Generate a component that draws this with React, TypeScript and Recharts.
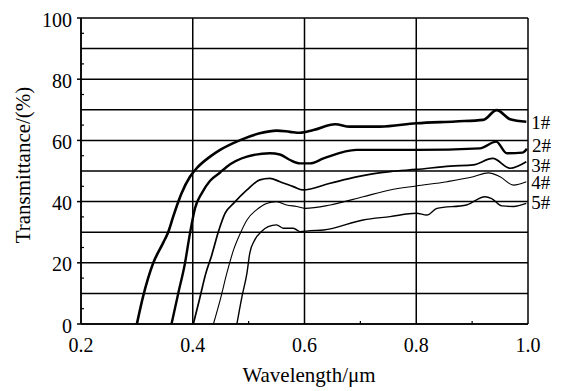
import React from 'react';
import { LineChart, Line, XAxis, YAxis, CartesianGrid, Label } from 'recharts';

// ---- data ----
const wl1 = [0.300, 0.311, 0.329, 0.347, 0.356, 0.365, 0.380, 0.395, 0.407, 0.431, 0.449, 0.485, 0.520, 0.550, 0.574, 0.592, 0.616, 0.655, 0.681, 0.735, 0.800, 0.870, 0.920, 0.944, 0.968, 0.997];
const tr1 = [0, 8.9, 19.8, 26.5, 30.0, 35.1, 42.7, 48.1, 50.9, 54.7, 56.9, 60.1, 62.3, 63.2, 62.8, 62.5, 63.4, 65.3, 64.5, 64.5, 65.6, 66.2, 66.7, 69.9, 66.9, 66.1];

const wl2 = [0.362, 0.374, 0.386, 0.395, 0.404, 0.416, 0.431, 0.449, 0.461, 0.497, 0.538, 0.556, 0.574, 0.592, 0.610, 0.634, 0.693, 0.800, 0.914, 0.943, 0.962, 0.990, 0.998];
const tr2 = [0, 10, 19.8, 29.6, 37.8, 42.7, 46.8, 49.5, 51.4, 54.7, 55.8, 55.4, 53.6, 52.5, 52.5, 54.1, 56.9, 56.9, 57.4, 59.6, 55.8, 56.0, 57.3];

const wl3 = [0.401, 0.412, 0.423, 0.434, 0.446, 0.458, 0.473, 0.497, 0.520, 0.538, 0.556, 0.580, 0.597, 0.646, 0.693, 0.753, 0.800, 0.861, 0.902, 0.937, 0.968, 0.997];
const tr3 = [0, 8.0, 16.3, 22.5, 30.2, 36.2, 39.4, 43.8, 47.1, 47.6, 46.5, 44.9, 43.8, 46.0, 48.1, 49.8, 50.5, 51.6, 52.0, 54.1, 50.9, 53.0];

const wl4 = [0.437, 0.449, 0.461, 0.473, 0.485, 0.497, 0.514, 0.532, 0.550, 0.568, 0.586, 0.601, 0.646, 0.705, 0.753, 0.800, 0.855, 0.902, 0.929, 0.950, 0.974, 0.997];
const tr4 = [0, 7.8, 16.6, 24.2, 29.6, 34.0, 37.3, 39.4, 40.0, 38.9, 38.4, 37.8, 38.9, 41.6, 43.8, 45.1, 46.5, 48.1, 49.4, 48.1, 45.4, 46.5];

const wl5 = [0.479, 0.488, 0.497, 0.502, 0.511, 0.523, 0.535, 0.550, 0.562, 0.580, 0.592, 0.610, 0.634, 0.705, 0.753, 0.800, 0.819, 0.837, 0.890, 0.923, 0.935, 0.953, 0.974, 0.997];
const tr5 = [0, 8.9, 16.6, 23.1, 27.5, 30.2, 31.8, 32.4, 31.3, 31.3, 30.2, 30.5, 30.7, 34.0, 35.1, 36.2, 35.6, 37.8, 38.9, 41.6, 41.0, 38.6, 38.4, 39.4];

const seriesNames = ['1#', '2#', '3#', '4#', '5#'];
const xMajorTicks = [0.2, 0.4, 0.6, 0.8, 1.0];
const xMinorTicks = [0.3, 0.5, 0.7, 0.9];
const yMajorTicks = [0, 20, 40, 60, 80, 100];
const yMinorTicks = [5, 15, 25, 35, 45, 55, 65, 75, 85, 95];
const yGridValues = [0, 10, 20, 30, 40, 50, 60, 70, 80, 90, 100];
const xTitle = 'Wavelength/μm';
const yTitle = 'Transmittance/(%)';

// ---- build series ----
const zip = (xs: number[], ys: number[]) => xs.map((x, i) => ({ x, y: ys[i] }));
const seriesData = [zip(wl1, tr1), zip(wl2, tr2), zip(wl3, tr3), zip(wl4, tr4), zip(wl5, tr5)];

// styles
const FONT = "'Liberation Serif', 'Times New Roman', serif";
const widths = [2.6, 2.4, 1.7, 1.1, 1.4];
const labelDy = [1, -3, 4, 1, 0];

const isIn = (v: number, arr: number[]) => arr.some((a) => Math.abs(a - v) < 1e-6);

const XTick = (props: any) => {
  const { x, y, payload } = props;
  const v = payload.value;
  if (isIn(v, xMajorTicks)) {
    return (
      <text x={x} y={y + 28} textAnchor="middle" fontFamily={FONT} fontSize={20} fill="#000">
        {v.toFixed(1)}
      </text>
    );
  }
  return <line x1={x} x2={x} y1={y} y2={y - 3} stroke="#000" strokeWidth={1.2} />;
};

const YTick = (props: any) => {
  const { x, y, payload } = props;
  const v = payload.value;
  if (isIn(v, yMajorTicks)) {
    return (
      <g>
        <line x1={x - 4} x2={x} y1={y} y2={y} stroke="#000" strokeWidth={1.5} />
        <text x={x - 9} y={y + 8.5} textAnchor="end" fontFamily={FONT} fontSize={20} fill="#000">
          {v}
        </text>
      </g>
    );
  }
  return <line x1={x} x2={x + 3} y1={y} y2={y} stroke="#000" strokeWidth={1.2} />;
};

const makeEndLabel = (si: number) => (props: any) => {
  const { x, y, index } = props;
  if (index !== seriesData[si].length - 1) return null;
  return (
    <text x={x + 5} y={y + 6 + labelDy[si]} textAnchor="start" fontFamily={FONT} fontSize={19} fill="#000">
      {seriesNames[si]}
    </text>
  );
};

export default function App() {
  return (
    <div style={{ position: 'absolute', left: 0, top: 0, width: 564, height: 391, background: '#fff' }}>
      <LineChart width={564} height={391} margin={{ top: 18, right: 36, bottom: 0, left: 0 }}>
        <CartesianGrid
          horizontalValues={yGridValues}
          verticalValues={xMajorTicks}
          stroke="#000"
          strokeWidth={1.5}
          fill="none"
        />
        <XAxis
          type="number"
          dataKey="x"
          domain={[0.2, 1.0]}
          ticks={[...xMajorTicks, ...xMinorTicks].sort((a, b) => a - b)}
          tick={XTick}
          tickLine={false}
          tickSize={0}
          tickMargin={0}
          axisLine={{ stroke: '#000', strokeWidth: 1.5 }}
          height={67}
          allowDataOverflow
          interval={0}
        >
          <Label
            content={(p: any) => {
              const vb = p.viewBox;
              return (
                <text x={vb.x + vb.width / 2 + 4.5} y={vb.y + 58} textAnchor="middle" fontFamily={FONT} fontSize={21} fill="#000">
                  {xTitle}
                </text>
              );
            }}
          />
        </XAxis>
        <YAxis
          type="number"
          domain={[0, 100]}
          ticks={[...yMajorTicks, ...yMinorTicks].sort((a, b) => a - b)}
          tick={YTick}
          tickLine={false}
          tickSize={0}
          tickMargin={0}
          axisLine={{ stroke: '#000', strokeWidth: 1.5 }}
          width={81}
          interval={0}
        >
          <Label
            content={(p: any) => {
              const vb = p.viewBox;
              const cx = vb.x + 30;
              const cy = vb.y + vb.height / 2 - 6;
              return (
                <text x={cx} y={cy} transform={`rotate(-90, ${cx}, ${cy})`} textAnchor="middle" fontFamily={FONT} fontSize={21} fill="#000">
                  {yTitle}
                </text>
              );
            }}
          />
        </YAxis>
        {seriesData.map((d, i) => (
          <Line
            key={seriesNames[i]}
            data={d}
            dataKey="y"
            type="monotone"
            stroke="#000"
            strokeWidth={widths[i]}
            dot={false}
            activeDot={false}
            isAnimationActive={false}
            label={makeEndLabel(i)}
          />
        ))}
      </LineChart>
    </div>
  );
}
